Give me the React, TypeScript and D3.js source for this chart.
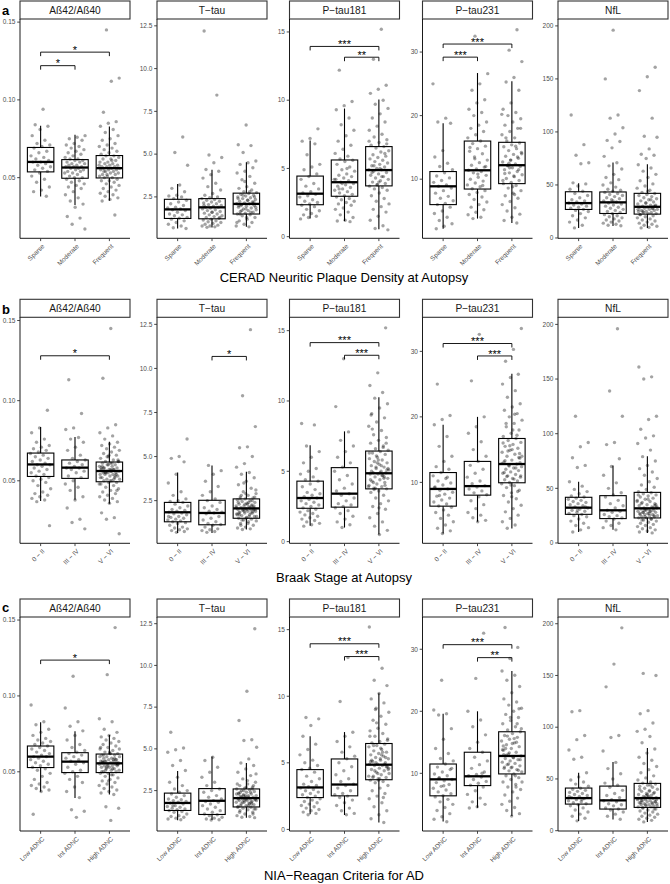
import React from "react";
import * as d3 from "d3";

const W = 670;
const H = 884;
const FONT = "'Liberation Sans', Arial, Helvetica, sans-serif";

// ---------- shared axis data ----------
const MARKERS = ["Aß42/Aß40", "T\u2212tau", "P\u2212tau181", "P\u2212tau231", "NfL"];
const Y_DOMAINS: [number, number][] = [
  [0.011, 0.152],
  [0.08, 12.9],
  [-0.12, 15.95],
  [0.7, 35.2],
  [-0.3, 206.5],
];
const Y_TICKS = [
  [0.05, 0.1, 0.15],
  [2.5, 5, 7.5, 10, 12.5],
  [0, 5, 10, 15],
  [10, 20, 30],
  [0, 50, 100, 150, 200],
];
const Y_DECIMALS = [2, 1, 0, 0, 0];

const CERAD_GROUPS = ["Sparse", "Moderate", "Frequent"];
const BRAAK_GROUPS = ["0 \u2212 II", "III \u2212 IV", "V \u2212 VI"];
const NIA_GROUPS = ["Low ADNC", "Int ADNC", "High ADNC"];
const ROW_TITLES = [
  "CERAD Neuritic Plaque Density at Autopsy",
  "Braak Stage at Autopsy",
  "NIA\u2212Reagan Criteria for AD",
];
const ROW_LETTERS = ["a", "b", "c"];

// ---------- box statistics: [lower whisker, Q1, median, Q3, upper whisker] ----------
const CERAD_BOX = [
  [[0.0378, 0.0537, 0.0601, 0.0694, 0.0833], [0.0324, 0.0496, 0.0565, 0.0616, 0.0776], [0.0352, 0.0498, 0.0561, 0.0642, 0.0829]],
  [[0.65, 1.24, 1.77, 2.36, 3.25], [0.71, 1.22, 1.89, 2.4, 4.09], [0.75, 1.5, 2.09, 2.72, 4.52]],
  [[1.34, 2.34, 3.15, 4.44, 7.05], [1.14, 2.96, 3.99, 5.62, 9.39], [0.55, 3.72, 4.88, 6.6, 10.05]],
  [[2.2, 6.0, 8.88, 11.2, 18.8], [3.8, 8.45, 11.4, 16.0, 26.7], [3.1, 9.3, 12.2, 15.8, 25.4]],
  [[9.5, 26.9, 32.9, 43.6, 51.5], [11.4, 23.1, 33.6, 43.4, 71.2], [9.5, 22.5, 29.4, 42.1, 69.6]],
];
const BRAAK_BOX = [
  [[0.0374, 0.0527, 0.0602, 0.0673, 0.0835], [0.0382, 0.0515, 0.0582, 0.063, 0.0773], [0.0357, 0.0494, 0.0561, 0.0617, 0.0744]],
  [[0.67, 1.3, 1.84, 2.4, 4.1], [0.67, 1.13, 1.8, 2.52, 4.5], [0.86, 1.5, 2.06, 2.6, 4.14]],
  [[1.13, 2.37, 3.1, 4.3, 6.85], [1.0, 2.45, 3.41, 5.26, 7.84], [0.5, 3.75, 4.86, 6.44, 10.27]],
  [[2.2, 6.37, 9.0, 11.5, 18.8], [4.0, 8.05, 9.43, 13.2, 20.0], [2.95, 9.94, 12.8, 16.7, 26.6]],
  [[10.1, 26.2, 32.3, 41.8, 56.1], [12.2, 22.3, 29.9, 43.3, 70.8], [9.2, 22.9, 31.7, 46.3, 79.3]],
];
const NIA_BOX = [
  [[0.0368, 0.0528, 0.06, 0.067, 0.0827], [0.0327, 0.0495, 0.0567, 0.0626, 0.0768], [0.0351, 0.0495, 0.0556, 0.0617, 0.0742]],
  [[0.72, 1.31, 1.76, 2.35, 3.68], [0.74, 1.07, 1.89, 2.62, 4.54], [0.88, 1.52, 2.05, 2.6, 4.15]],
  [[1.13, 2.39, 3.15, 4.49, 7.0], [1.08, 2.52, 3.37, 5.29, 7.31], [0.52, 3.73, 4.86, 6.45, 10.23]],
  [[2.24, 6.37, 9.03, 11.5, 19.6], [4.44, 8.02, 9.52, 13.4, 20.0], [3.1, 9.9, 12.8, 16.7, 26.5]],
  [[9.3, 25.7, 31.5, 41.2, 56.0], [10.9, 20.9, 29.3, 43.1, 66.3], [8.3, 22.5, 31.5, 45.7, 79.8]],
];

// ---------- individual observations ----------
const CERAD_PTS_AB = [
  [0.094, 0.084, 0.083, 0.081, 0.077, 0.074, 0.072, 0.071, 0.07, 0.069, 0.067, 0.066, 0.064, 0.063, 0.062, 0.061, 0.06, 0.06, 0.059, 0.058, 0.057, 0.056, 0.055, 0.054, 0.053, 0.051, 0.049, 0.047, 0.044, 0.042, 0.041, 0.038],
  [0.077, 0.076, 0.075, 0.074, 0.072, 0.071, 0.07, 0.069, 0.068, 0.067, 0.066, 0.065, 0.064, 0.063, 0.062, 0.062, 0.061, 0.061, 0.06, 0.06, 0.059, 0.059, 0.058, 0.058, 0.057, 0.057, 0.057, 0.056, 0.056, 0.055, 0.055, 0.054, 0.054, 0.053, 0.053, 0.052, 0.051, 0.05, 0.05, 0.049, 0.048, 0.047, 0.046, 0.045, 0.044, 0.043, 0.041, 0.039, 0.037, 0.035, 0.033, 0.031, 0.025, 0.024, 0.02, 0.017],
  [0.145, 0.114, 0.112, 0.092, 0.086, 0.085, 0.083, 0.081, 0.079, 0.077, 0.075, 0.074, 0.072, 0.071, 0.07, 0.069, 0.068, 0.067, 0.066, 0.065, 0.064, 0.064, 0.063, 0.062, 0.062, 0.061, 0.06, 0.06, 0.059, 0.059, 0.058, 0.058, 0.057, 0.057, 0.057, 0.056, 0.056, 0.056, 0.055, 0.055, 0.055, 0.054, 0.054, 0.053, 0.053, 0.052, 0.052, 0.051, 0.051, 0.05, 0.05, 0.049, 0.048, 0.048, 0.047, 0.046, 0.045, 0.044, 0.043, 0.042, 0.041, 0.04, 0.039, 0.038, 0.037, 0.036, 0.035, 0.026, 0.052, 0.058, 0.061, 0.054],
];
const CERAD_PTS_TT = [
  [6.0, 5.1, 4.35, 3.2, 3.0, 2.8, 2.6, 2.55, 2.5, 2.4, 2.3, 2.2, 2.1, 2.0, 1.9, 1.85, 1.8, 1.75, 1.7, 1.6, 1.5, 1.45, 1.4, 1.3, 1.25, 1.2, 1.1, 1.0, 0.9, 0.8, 0.7, 0.65],
  [12.2, 8.45, 4.95, 4.8, 4.5, 4.1, 4.0, 3.8, 3.6, 3.3, 3.1, 2.9, 2.7, 2.6, 2.5, 2.45, 2.4, 2.35, 2.3, 2.25, 2.2, 2.15, 2.1, 2.05, 2.0, 1.95, 1.9, 1.9, 1.85, 1.8, 1.75, 1.7, 1.65, 1.6, 1.55, 1.5, 1.45, 1.4, 1.35, 1.3, 1.25, 1.2, 1.15, 1.1, 1.05, 1.0, 0.95, 0.9, 0.85, 0.8, 0.8, 0.75, 0.72, 1.3, 1.6, 2.0],
  [6.7, 5.55, 5.5, 5.1, 4.6, 4.5, 4.4, 4.2, 4.0, 3.9, 3.7, 3.5, 3.3, 3.1, 3.0, 2.9, 2.8, 2.75, 2.7, 2.65, 2.6, 2.55, 2.5, 2.45, 2.4, 2.35, 2.3, 2.25, 2.2, 2.15, 2.1, 2.1, 2.05, 2.0, 1.95, 1.9, 1.85, 1.8, 1.75, 1.7, 1.65, 1.6, 1.55, 1.5, 1.45, 1.4, 1.3, 1.2, 1.1, 1.0, 0.9, 0.8, 0.75, 2.0, 2.2, 1.8, 2.4, 1.6, 2.6, 1.9, 2.3, 1.5, 2.1, 3.4, 1.0, 2.8, 1.7, 2.5, 1.3, 2.0],
];
const CERAD_PTS_P181 = [
  [7.9, 7.2, 7.0, 6.8, 6.0, 5.3, 5.1, 4.9, 4.6, 4.4, 4.2, 3.9, 3.7, 3.5, 3.3, 3.2, 3.1, 3.0, 2.9, 2.7, 2.6, 2.5, 2.4, 2.3, 2.2, 2.0, 1.9, 1.7, 1.6, 1.5, 1.4, 1.3],
  [12.2, 9.9, 9.6, 9.3, 8.7, 8.2, 7.8, 7.4, 7.0, 6.7, 6.4, 6.1, 5.9, 5.7, 5.6, 5.5, 5.3, 5.1, 4.9, 4.8, 4.6, 4.5, 4.4, 4.3, 4.2, 4.1, 4.0, 3.9, 3.8, 3.7, 3.6, 3.5, 3.4, 3.3, 3.2, 3.1, 3.0, 2.9, 2.8, 2.7, 2.6, 2.5, 2.4, 2.3, 2.1, 2.0, 1.8, 1.6, 1.4, 1.2, 1.15, 1.1, 3.9, 4.2, 5.0, 3.5],
  [15.2, 13.0, 11.1, 10.8, 10.5, 10.0, 9.7, 9.4, 9.0, 8.7, 8.4, 8.1, 7.8, 7.5, 7.3, 7.1, 6.9, 6.7, 6.6, 6.5, 6.3, 6.2, 6.0, 5.9, 5.8, 5.7, 5.6, 5.5, 5.4, 5.3, 5.2, 5.1, 5.0, 4.9, 4.9, 4.8, 4.7, 4.6, 4.5, 4.4, 4.3, 4.2, 4.1, 4.0, 3.9, 3.8, 3.7, 3.6, 3.5, 3.4, 3.2, 3.0, 2.8, 2.6, 2.4, 2.2, 2.0, 1.8, 1.5, 1.2, 0.8, 0.6, 0.5, 5.0, 4.7, 6.1, 3.8, 7.0, 4.4, 5.2, 6.8, 4.0],
];
const CERAD_PTS_P231 = [
  [25.0, 19.6, 19.0, 18.8, 14.5, 13.5, 12.5, 12.0, 11.5, 11.0, 10.5, 10.2, 9.8, 9.5, 9.1, 8.9, 8.6, 8.2, 7.8, 7.3, 7.0, 6.6, 6.2, 6.0, 5.6, 5.0, 4.6, 4.0, 3.5, 3.0, 2.6, 2.2],
  [32.5, 26.6, 25.0, 24.0, 22.5, 22.0, 21.0, 20.5, 20.0, 19.0, 18.5, 18.0, 17.5, 17.0, 16.5, 16.0, 15.6, 15.2, 14.8, 14.4, 14.0, 13.5, 13.0, 12.6, 12.2, 11.9, 11.6, 11.4, 11.2, 11.0, 10.6, 10.3, 10.0, 9.7, 9.4, 9.1, 8.8, 8.5, 8.2, 7.9, 7.6, 7.2, 6.8, 6.4, 6.0, 5.6, 5.2, 4.8, 4.4, 4.0, 3.8, 12.0, 10.8, 15.0, 9.0, 13.2],
  [33.5, 30.3, 28.5, 26.0, 25.3, 24.0, 22.0, 21.0, 20.5, 20.0, 19.5, 19.0, 18.5, 18.0, 17.5, 17.0, 16.5, 16.0, 15.7, 15.4, 15.1, 14.8, 14.5, 14.2, 13.9, 13.6, 13.3, 13.0, 12.7, 12.4, 12.2, 12.0, 11.8, 11.5, 11.2, 11.0, 10.7, 10.4, 10.1, 9.8, 9.5, 9.3, 9.0, 8.6, 8.2, 7.8, 7.4, 7.0, 6.5, 6.0, 5.5, 5.0, 4.5, 4.0, 3.5, 3.1, 12.5, 14.0, 10.5, 16.5, 11.5, 13.0, 9.8, 15.2, 12.1, 18.0, 8.8, 10.9, 13.5, 11.8, 20.2, 7.6],
];
const CERAD_PTS_NFL = [
  [116, 88, 78, 71, 70, 52, 51, 49, 46, 44, 42, 40, 38, 36, 35, 34, 33, 32, 31, 30, 29, 28, 27, 26, 25, 23, 21, 19, 17, 15, 12, 9.5],
  [196, 150, 116, 113, 104, 98, 92, 91, 85, 77, 71, 68, 65, 60, 57, 55, 52, 50, 48, 46, 45, 44, 43, 42, 41, 40, 39, 38, 37, 36, 35, 34, 33, 32, 31, 30, 29, 28, 27, 26, 25, 24, 23, 22, 21, 20, 19, 18, 17, 16, 15, 14, 13, 12, 11.5, 35],
  [161, 152, 139, 113, 96, 95, 84, 79, 78, 75, 69, 66, 63, 60, 57, 54, 51, 49, 47, 45, 43, 42, 41, 40, 39, 38, 37, 36, 35, 34, 33, 32, 31, 30, 30, 29, 29, 28, 28, 27, 27, 26, 26, 25, 25, 24, 24, 23, 23, 22, 21, 20, 19, 18, 17, 16, 15, 14, 13, 12, 11, 10, 9.5, 30, 33, 27, 36, 25, 31, 44, 22, 28],
];

const BRAAK_PTS_AB = [
  [0.094, 0.083, 0.08, 0.076, 0.074, 0.072, 0.071, 0.07, 0.069, 0.068, 0.067, 0.066, 0.065, 0.064, 0.063, 0.062, 0.061, 0.06, 0.06, 0.059, 0.058, 0.057, 0.056, 0.055, 0.054, 0.053, 0.052, 0.051, 0.05, 0.049, 0.047, 0.045, 0.043, 0.042, 0.041, 0.04, 0.039, 0.038, 0.037, 0.022],
  [0.113, 0.092, 0.083, 0.082, 0.077, 0.076, 0.074, 0.071, 0.069, 0.066, 0.064, 0.063, 0.062, 0.061, 0.06, 0.059, 0.058, 0.058, 0.057, 0.056, 0.055, 0.053, 0.052, 0.05, 0.048, 0.046, 0.044, 0.04, 0.038, 0.033, 0.026, 0.024, 0.02],
  [0.145, 0.114, 0.085, 0.083, 0.08, 0.078, 0.076, 0.074, 0.073, 0.072, 0.071, 0.07, 0.069, 0.068, 0.067, 0.066, 0.065, 0.064, 0.063, 0.062, 0.062, 0.061, 0.061, 0.06, 0.06, 0.059, 0.059, 0.058, 0.058, 0.057, 0.057, 0.057, 0.056, 0.056, 0.056, 0.055, 0.055, 0.055, 0.054, 0.054, 0.054, 0.053, 0.053, 0.052, 0.052, 0.051, 0.051, 0.05, 0.05, 0.049, 0.049, 0.048, 0.047, 0.046, 0.045, 0.044, 0.043, 0.042, 0.041, 0.04, 0.039, 0.038, 0.037, 0.036, 0.03, 0.027, 0.026, 0.017, 0.056, 0.058, 0.054, 0.06, 0.052, 0.057, 0.055, 0.063, 0.05, 0.059, 0.053, 0.065, 0.048, 0.061, 0.056, 0.044, 0.066, 0.058, 0.051, 0.055, 0.062, 0.057],
];
const BRAAK_PTS_TT = [
  [6.0, 5.0, 4.9, 4.7, 4.0, 3.5, 3.0, 2.8, 2.6, 2.5, 2.45, 2.4, 2.3, 2.2, 2.1, 2.0, 1.95, 1.9, 1.85, 1.8, 1.75, 1.7, 1.6, 1.55, 1.5, 1.45, 1.4, 1.35, 1.3, 1.25, 1.2, 1.1, 1.0, 0.95, 0.9, 0.85, 0.8, 0.75, 0.7, 1.6],
  [4.5, 4.2, 4.0, 3.6, 3.3, 3.0, 2.8, 2.6, 2.5, 2.4, 2.2, 2.1, 2.0, 1.9, 1.85, 1.8, 1.75, 1.6, 1.5, 1.4, 1.3, 1.2, 1.15, 1.1, 1.0, 0.9, 0.85, 0.8, 0.75, 0.7],
  [12.2, 8.45, 6.7, 5.55, 5.5, 5.0, 4.6, 4.4, 4.1, 4.0, 3.8, 3.6, 3.4, 3.2, 3.0, 2.9, 2.8, 2.7, 2.65, 2.6, 2.55, 2.5, 2.45, 2.4, 2.35, 2.3, 2.25, 2.2, 2.2, 2.15, 2.1, 2.1, 2.05, 2.0, 2.0, 1.95, 1.9, 1.9, 1.85, 1.8, 1.8, 1.75, 1.7, 1.65, 1.6, 1.55, 1.5, 1.45, 1.4, 1.35, 1.3, 1.2, 1.1, 1.0, 0.95, 0.9, 0.86, 2.0, 2.3, 1.7, 2.5, 1.9, 2.1, 1.6, 2.8, 2.2, 1.5, 2.4, 1.8, 2.0, 3.1, 1.2, 2.6, 1.9, 2.3, 1.7, 2.1, 1.4, 2.7, 2.0, 1.8, 2.2, 3.5, 1.6, 2.4, 1.1, 2.0, 2.9],
];
const BRAAK_PTS_P181 = [
  [8.4, 8.3, 6.8, 6.4, 6.0, 5.6, 5.2, 5.0, 4.8, 4.6, 4.4, 4.3, 4.1, 3.9, 3.7, 3.5, 3.4, 3.3, 3.2, 3.1, 3.0, 2.9, 2.8, 2.7, 2.6, 2.5, 2.4, 2.3, 2.2, 2.1, 2.0, 1.9, 1.8, 1.7, 1.6, 1.5, 1.4, 1.3, 1.2, 1.1],
  [13.0, 9.6, 7.8, 7.2, 6.8, 6.4, 6.0, 5.6, 5.3, 5.0, 4.7, 4.4, 4.1, 3.8, 3.6, 3.4, 3.3, 3.1, 2.9, 2.7, 2.6, 2.5, 2.4, 2.2, 2.0, 1.8, 1.6, 1.4, 1.2, 1.0],
  [15.2, 12.0, 11.1, 10.6, 10.2, 9.8, 9.5, 9.1, 8.8, 8.5, 8.2, 7.9, 7.6, 7.4, 7.2, 7.0, 6.8, 6.6, 6.5, 6.4, 6.3, 6.2, 6.0, 5.9, 5.8, 5.7, 5.6, 5.5, 5.4, 5.3, 5.2, 5.1, 5.0, 4.9, 4.9, 4.8, 4.8, 4.7, 4.6, 4.5, 4.4, 4.3, 4.2, 4.1, 4.0, 3.9, 3.8, 3.75, 3.6, 3.5, 3.3, 3.1, 2.9, 2.7, 2.5, 2.3, 2.0, 1.7, 1.4, 1.1, 0.8, 0.5, 5.0, 4.6, 6.1, 3.9, 5.4, 4.2, 7.0, 5.8, 4.4, 6.7, 3.8, 5.2, 4.9, 8.0, 4.0, 5.6, 6.3, 4.7, 3.7, 5.1, 2.4, 9.0, 4.5, 5.3],
];
const BRAAK_PTS_P231 = [
  [25.0, 20.2, 19.6, 18.8, 17.0, 15.5, 14.0, 13.2, 12.4, 12.0, 11.5, 11.0, 10.6, 10.2, 9.9, 9.6, 9.3, 9.0, 8.8, 8.5, 8.2, 7.9, 7.6, 7.3, 7.0, 6.7, 6.4, 6.2, 5.8, 5.4, 5.0, 4.5, 4.0, 3.5, 3.0, 2.6, 2.2, 9.2, 10.8, 8.0],
  [32.6, 25.5, 20.0, 18.5, 17.5, 16.2, 15.0, 14.0, 13.2, 12.6, 12.0, 11.4, 10.8, 10.2, 9.8, 9.5, 9.3, 9.0, 8.7, 8.4, 8.1, 7.8, 7.2, 6.6, 6.0, 5.4, 5.0, 4.6, 4.2, 4.0],
  [33.5, 30.3, 28.5, 26.5, 26.0, 25.0, 24.0, 23.0, 22.0, 21.5, 21.0, 20.5, 20.0, 19.5, 19.0, 18.5, 18.0, 17.5, 17.0, 16.7, 16.4, 16.1, 15.8, 15.5, 15.2, 14.9, 14.6, 14.3, 14.0, 13.7, 13.4, 13.1, 12.8, 12.6, 12.4, 12.2, 12.0, 11.8, 11.6, 11.4, 11.2, 11.0, 10.8, 10.6, 10.4, 10.2, 10.0, 9.8, 9.5, 9.2, 8.8, 8.4, 8.0, 7.5, 7.0, 6.5, 6.0, 5.5, 5.0, 4.5, 4.0, 3.5, 3.0, 13.0, 15.0, 11.5, 17.2, 12.5, 14.0, 10.5, 19.0, 13.8, 9.6, 16.0, 12.2, 14.8, 11.0, 18.0, 13.3, 8.6, 15.6, 12.9, 20.4, 10.9, 14.4, 7.8],
];
const BRAAK_PTS_NFL = [
  [116, 92, 88, 78, 71, 69, 56, 52, 49, 47, 45, 43, 42, 41, 40, 39, 38, 37, 36, 35, 34, 33, 32, 31, 30, 29, 28, 27, 26, 25, 24, 22, 20, 18, 16, 14, 12, 10, 33, 30],
  [196, 139, 116, 92, 90, 77, 70, 62, 55, 50, 46, 44, 42, 39, 36, 34, 32, 30, 29, 28, 26, 25, 24, 23, 22, 20, 18, 16, 14, 12],
  [161, 152, 150, 116, 113, 104, 98, 96, 91, 85, 79, 75, 71, 68, 65, 62, 59, 56, 53, 51, 49, 47, 46, 45, 44, 43, 42, 41, 40, 39, 38, 37, 36, 35, 34, 33, 32, 32, 31, 31, 30, 30, 29, 29, 28, 28, 27, 27, 26, 26, 25, 25, 24, 24, 23, 23, 22, 21, 20, 19, 18, 17, 16, 15, 14, 13, 12, 11, 10, 9.2, 30, 33, 27, 36, 25, 31, 44, 22, 28, 35, 40, 26, 32, 24, 38, 29, 21, 34],
];

const NIA_PTS_AB = [
  [0.094, 0.083, 0.081, 0.078, 0.076, 0.074, 0.072, 0.071, 0.07, 0.069, 0.068, 0.067, 0.066, 0.065, 0.064, 0.063, 0.062, 0.061, 0.06, 0.06, 0.059, 0.058, 0.057, 0.056, 0.055, 0.054, 0.053, 0.052, 0.051, 0.049, 0.047, 0.045, 0.043, 0.042, 0.041, 0.04, 0.039, 0.038, 0.037, 0.022],
  [0.113, 0.092, 0.083, 0.08, 0.077, 0.074, 0.071, 0.068, 0.066, 0.064, 0.063, 0.062, 0.061, 0.06, 0.059, 0.058, 0.057, 0.056, 0.055, 0.053, 0.051, 0.05, 0.049, 0.047, 0.045, 0.043, 0.04, 0.037, 0.033, 0.025, 0.024, 0.02],
  [0.145, 0.114, 0.085, 0.083, 0.078, 0.076, 0.074, 0.073, 0.072, 0.071, 0.07, 0.069, 0.068, 0.067, 0.066, 0.065, 0.064, 0.063, 0.062, 0.062, 0.061, 0.061, 0.06, 0.06, 0.059, 0.059, 0.058, 0.058, 0.057, 0.057, 0.057, 0.056, 0.056, 0.056, 0.055, 0.055, 0.055, 0.054, 0.054, 0.054, 0.053, 0.053, 0.052, 0.052, 0.051, 0.051, 0.05, 0.05, 0.049, 0.049, 0.048, 0.047, 0.046, 0.045, 0.044, 0.043, 0.042, 0.041, 0.04, 0.039, 0.038, 0.037, 0.036, 0.035, 0.027, 0.026, 0.018, 0.056, 0.058, 0.054, 0.06, 0.052, 0.057, 0.055, 0.063, 0.05, 0.059, 0.053, 0.065, 0.048, 0.061, 0.056, 0.044, 0.066, 0.058, 0.051, 0.055, 0.062, 0.057],
];
const NIA_PTS_TT = [
  [6.0, 5.05, 4.95, 4.8, 4.3, 4.0, 3.7, 3.3, 3.0, 2.8, 2.6, 2.5, 2.4, 2.3, 2.2, 2.1, 2.0, 1.95, 1.9, 1.85, 1.8, 1.75, 1.7, 1.6, 1.55, 1.5, 1.45, 1.4, 1.35, 1.3, 1.25, 1.2, 1.1, 1.0, 0.95, 0.9, 0.85, 0.8, 0.75, 1.6],
  [4.5, 4.3, 3.9, 3.6, 3.3, 3.0, 2.8, 2.6, 2.5, 2.4, 2.2, 2.1, 2.0, 1.9, 1.85, 1.8, 1.7, 1.6, 1.5, 1.4, 1.3, 1.2, 1.1, 1.05, 1.0, 0.9, 0.85, 0.8, 0.75, 0.74],
  [12.2, 8.45, 6.7, 5.55, 5.5, 5.1, 4.4, 4.15, 4.0, 3.8, 3.6, 3.4, 3.2, 3.0, 2.9, 2.8, 2.7, 2.65, 2.6, 2.55, 2.5, 2.45, 2.4, 2.35, 2.3, 2.25, 2.2, 2.2, 2.15, 2.1, 2.1, 2.05, 2.0, 2.0, 1.95, 1.9, 1.9, 1.85, 1.8, 1.8, 1.75, 1.7, 1.65, 1.6, 1.55, 1.5, 1.45, 1.4, 1.35, 1.3, 1.2, 1.1, 1.0, 0.95, 0.9, 0.88, 2.0, 2.3, 1.7, 2.5, 1.9, 2.1, 1.6, 2.8, 2.2, 1.5, 2.4, 1.8, 2.0, 3.1, 1.2, 2.6, 1.9, 2.3, 1.7, 2.1, 1.4, 2.7, 2.0, 1.8, 2.2, 3.5, 1.6, 2.4, 1.1, 2.0, 2.9],
];
const NIA_PTS_P181 = [
  [8.4, 8.3, 7.8, 7.0, 6.4, 6.0, 5.6, 5.2, 5.0, 4.8, 4.6, 4.5, 4.3, 4.0, 3.8, 3.6, 3.4, 3.3, 3.2, 3.1, 3.0, 2.9, 2.8, 2.7, 2.6, 2.5, 2.4, 2.3, 2.2, 2.1, 2.0, 1.9, 1.8, 1.7, 1.6, 1.5, 1.4, 1.3, 1.2, 1.1],
  [12.9, 9.6, 7.3, 7.0, 6.6, 6.2, 5.8, 5.5, 5.3, 5.0, 4.7, 4.4, 4.1, 3.8, 3.6, 3.4, 3.3, 3.1, 2.9, 2.7, 2.6, 2.5, 2.4, 2.2, 2.0, 1.8, 1.6, 1.4, 1.2, 1.1],
  [15.2, 12.1, 11.2, 10.8, 10.2, 9.8, 9.5, 9.1, 8.8, 8.5, 8.2, 7.9, 7.6, 7.4, 7.2, 7.0, 6.8, 6.6, 6.5, 6.4, 6.3, 6.2, 6.0, 5.9, 5.8, 5.7, 5.6, 5.5, 5.4, 5.3, 5.2, 5.1, 5.0, 4.9, 4.9, 4.8, 4.8, 4.7, 4.6, 4.5, 4.4, 4.3, 4.2, 4.1, 4.0, 3.9, 3.8, 3.7, 3.6, 3.5, 3.3, 3.1, 2.9, 2.7, 2.5, 2.3, 2.0, 1.7, 1.4, 1.1, 0.8, 0.52, 5.0, 4.6, 6.1, 3.9, 5.4, 4.2, 7.0, 5.8, 4.4, 6.7, 3.8, 5.2, 4.9, 8.0, 4.0, 5.6, 6.3, 4.7, 3.7, 5.1, 2.4, 9.0, 4.5, 5.3],
];
const NIA_PTS_P231 = [
  [25.0, 20.2, 19.6, 19.4, 17.2, 15.5, 14.0, 13.2, 12.4, 12.0, 11.5, 11.0, 10.6, 10.2, 9.9, 9.6, 9.3, 9.0, 8.8, 8.5, 8.2, 7.9, 7.6, 7.3, 7.0, 6.7, 6.4, 6.2, 5.8, 5.4, 5.0, 4.5, 4.0, 3.5, 3.0, 2.6, 2.2, 9.2, 10.8, 8.0],
  [32.6, 25.3, 20.0, 18.6, 17.5, 16.2, 15.0, 14.0, 13.4, 12.6, 12.0, 11.4, 10.8, 10.2, 9.8, 9.6, 9.4, 9.0, 8.7, 8.4, 8.1, 7.8, 7.2, 6.6, 6.0, 5.4, 5.0, 4.6, 4.4, 10.0],
  [33.5, 30.3, 28.5, 26.5, 25.8, 25.0, 24.0, 23.0, 22.0, 21.5, 21.0, 20.5, 20.0, 19.5, 19.0, 18.5, 18.0, 17.5, 17.0, 16.7, 16.4, 16.1, 15.8, 15.5, 15.2, 14.9, 14.6, 14.3, 14.0, 13.7, 13.4, 13.1, 12.8, 12.6, 12.4, 12.2, 12.0, 11.8, 11.6, 11.4, 11.2, 11.0, 10.8, 10.6, 10.4, 10.2, 9.9, 9.6, 9.3, 9.0, 8.6, 8.2, 7.8, 7.4, 7.0, 6.5, 6.0, 5.5, 5.0, 4.5, 4.0, 3.5, 3.1, 13.0, 15.0, 11.5, 17.2, 12.5, 14.0, 10.5, 19.0, 13.8, 9.6, 16.0, 12.2, 14.8, 11.0, 18.0, 13.3, 8.6, 15.6, 12.9, 20.4, 10.9, 14.4, 7.8],
];
const NIA_PTS_NFL = [
  [116, 115, 92, 88, 78, 71, 69, 56, 52, 49, 47, 45, 43, 41, 40, 39, 38, 37, 36, 35, 34, 33, 32, 31, 30, 29, 28, 27, 26, 25, 24, 22, 20, 18, 16, 14, 12, 9.5, 33, 30],
  [196, 161, 139, 92, 90, 77, 66, 60, 55, 50, 46, 44, 42, 39, 36, 34, 32, 30, 29, 28, 26, 25, 24, 22, 21, 20, 18, 16, 14, 11],
  [152, 150, 116, 113, 104, 98, 96, 91, 85, 79, 75, 71, 68, 65, 62, 59, 56, 53, 51, 49, 47, 46, 45, 44, 43, 42, 41, 40, 39, 38, 37, 36, 35, 34, 33, 32, 32, 31, 31, 30, 30, 29, 29, 28, 28, 27, 27, 26, 26, 25, 25, 24, 24, 23, 23, 22, 21, 20, 19, 18, 17, 16, 15, 14, 13, 12, 11, 10, 8.5, 30, 33, 27, 36, 25, 31, 44, 22, 28, 35, 40, 26, 32, 24, 38, 29, 21, 34],
];

// ---------- significance brackets: [marker, fromGroup, toGroup, y value, label] ----------
type Sig = [number, number, number, number, string];
const CERAD_SIG: Sig[] = [
  [0, 0, 1, 0.122, "*"],
  [0, 0, 2, 0.1307, "*"],
  [2, 0, 2, 13.94, "***"],
  [2, 1, 2, 13.15, "**"],
  [3, 0, 2, 31.26, "***"],
  [3, 0, 1, 29.2, "***"],
];
const BRAAK_SIG: Sig[] = [
  [0, 0, 2, 0.128, "*"],
  [1, 1, 2, 10.68, "*"],
  [2, 0, 2, 14.15, "***"],
  [2, 1, 2, 13.25, "***"],
  [3, 0, 2, 31.2, "***"],
  [3, 1, 2, 29.3, "***"],
];
const NIA_SIG: Sig[] = [
  [0, 0, 2, 0.1236, "*"],
  [2, 0, 2, 13.94, "***"],
  [2, 1, 2, 12.98, "***"],
  [3, 0, 2, 30.74, "***"],
  [3, 1, 2, 28.65, "**"],
];

const ROW_GROUPS = [CERAD_GROUPS, BRAAK_GROUPS, NIA_GROUPS];
const ROW_BOX = [CERAD_BOX, BRAAK_BOX, NIA_BOX];
const ROW_POINTS = [
  [CERAD_PTS_AB, CERAD_PTS_TT, CERAD_PTS_P181, CERAD_PTS_P231, CERAD_PTS_NFL],
  [BRAAK_PTS_AB, BRAAK_PTS_TT, BRAAK_PTS_P181, BRAAK_PTS_P231, BRAAK_PTS_NFL],
  [NIA_PTS_AB, NIA_PTS_TT, NIA_PTS_P181, NIA_PTS_P231, NIA_PTS_NFL],
];
const ROW_SIG = [CERAD_SIG, BRAAK_SIG, NIA_SIG];

// ---------- layout ----------
const PANEL_X = [20, 157, 289.5, 422.5, 558];
const PANEL_W = 110;
const STRIP_H = 18;
const LAYOUT = [
  { stripTop: 1, top: 19, bottom: 238.3, titleY: 281.5, letterY: 15 },
  { stripTop: 299.3, top: 317.3, bottom: 543.3, titleY: 581.5, letterY: 313.5 },
  { stripTop: 599, top: 617, bottom: 831, titleY: 879.5, letterY: 612 },
];

const frac = (v: number) => v - Math.floor(v);

function Panel({ r, m }: { r: number; m: number }) {
  const L = LAYOUT[r];
  const x0 = PANEL_X[m];
  const x1 = x0 + PANEL_W;
  const groups = ROW_GROUPS[r];
  const x = d3.scalePoint<string>().domain(groups).range([x0, x1]).padding(0.6);
  const step = x.step();
  const y = d3.scaleLinear().domain(Y_DOMAINS[m]).range([L.bottom, L.top]);
  const hw = 0.385 * step;
  const jw = 0.3 * step;
  const boxes = ROW_BOX[r][m];
  const pts = ROW_POINTS[r][m];
  const sigs = ROW_SIG[r].filter((s) => s[0] === m);

  return (
    <g>
      <rect x={x0} y={L.stripTop} width={PANEL_W} height={STRIP_H} fill="#fff" stroke="#333" strokeWidth={1.1} />
      <text x={x0 + PANEL_W / 2} y={L.stripTop + 12.8} textAnchor="middle" fontSize={10.2} fill="#1a1a1a">
        {MARKERS[m]}
      </text>

      {pts.map((arr, g) => {
        const cx = x(groups[g])!;
        return arr.map((v, i) => (
          <circle
            key={`p${g}-${i}`}
            cx={cx + (frac((i + 1) * 0.6180339887 + g * 0.37 + m * 0.13 + r * 0.21) - 0.5) * 2 * jw}
            cy={y(v)}
            r={1.7}
            fill="#000"
            fillOpacity={0.36}
          />
        ));
      })}

      {boxes.map((b, g) => {
        const cx = x(groups[g])!;
        const [lo, q1, med, q3, hi] = b;
        return (
          <g key={`b${g}`} stroke="#000" fill="none">
            <line x1={cx} x2={cx} y1={y(hi)} y2={y(q3)} strokeWidth={1.1} />
            <line x1={cx} x2={cx} y1={y(q1)} y2={y(lo)} strokeWidth={1.1} />
            <rect x={cx - hw} y={y(q3)} width={2 * hw} height={y(q1) - y(q3)} strokeWidth={1.1} />
            <line x1={cx - hw} x2={cx + hw} y1={y(med)} y2={y(med)} strokeWidth={2.3} />
          </g>
        );
      })}

      {sigs.map((s, k) => {
        const xa = x(groups[s[1]])!;
        const xb = x(groups[s[2]])!;
        const yy = y(s[3]);
        return (
          <g key={`s${k}`}>
            <path d={`M${xa},${yy + 4}V${yy}H${xb}V${yy + 4}`} fill="none" stroke="#000" strokeWidth={0.9} />
            <text x={(xa + xb) / 2} y={yy + 1.6} textAnchor="middle" fontSize={11} fill="#000">
              {s[4]}
            </text>
          </g>
        );
      })}

      <line x1={x0} x2={x0} y1={L.top} y2={L.bottom} stroke="#000" strokeWidth={0.9} />
      <line x1={x0} x2={x1} y1={L.bottom} y2={L.bottom} stroke="#000" strokeWidth={0.9} />
      {Y_TICKS[m].map((t) => (
        <g key={`yt${t}`}>
          <line x1={x0 - 2.8} x2={x0} y1={y(t)} y2={y(t)} stroke="#333" strokeWidth={0.9} />
          <text x={x0 - 4.6} y={y(t)} dy="0.35em" textAnchor="end" fontSize={6.5} fill="#4d4d4d">
            {t.toFixed(Y_DECIMALS[m])}
          </text>
        </g>
      ))}
      {groups.map((gname) => {
        const cx = x(gname)!;
        return (
          <g key={`xt${gname}`}>
            <line x1={cx} x2={cx} y1={L.bottom} y2={L.bottom + 2.8} stroke="#333" strokeWidth={0.9} />
            <text
              transform={`translate(${cx + 1},${L.bottom + 5}) rotate(-45)`}
              textAnchor="end"
              dy="0.72em"
              fontSize={6.5}
              fill="#4d4d4d"
            >
              {gname}
            </text>
          </g>
        );
      })}
    </g>
  );
}

export default function App() {
  return (
    <svg
      width={W}
      height={H}
      viewBox={`0 0 ${W} ${H}`}
      style={{ position: "absolute", left: 0, top: 0, background: "#fff", fontFamily: FONT }}
    >
      <rect x={0} y={0} width={W} height={H} fill="#fff" />
      {[0, 1, 2].map((r) => (
        <g key={`row${r}`}>
          {[0, 1, 2, 3, 4].map((m) => (
            <Panel key={`p${r}-${m}`} r={r} m={m} />
          ))}
          <text x={344} y={LAYOUT[r].titleY} textAnchor="middle" fontSize={13} fill="#000">
            {ROW_TITLES[r]}
          </text>
          <text x={2} y={LAYOUT[r].letterY} fontSize={13} fontWeight="bold" fill="#000">
            {ROW_LETTERS[r]}
          </text>
        </g>
      ))}
    </svg>
  );
}
